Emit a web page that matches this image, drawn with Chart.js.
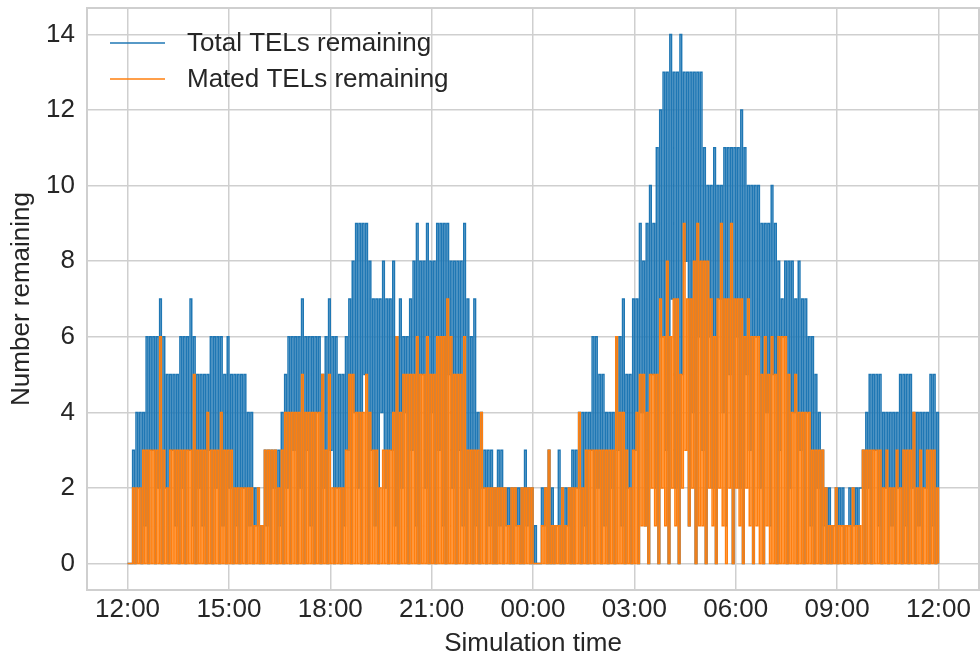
<!DOCTYPE html>
<html>
<head>
<meta charset="utf-8">
<title>TELs remaining</title>
<script src="https://cdn.jsdelivr.net/npm/chart.js@4.4.0/dist/chart.umd.min.js"></script>
<style>
  html, body { margin: 0; padding: 0; background: #fff; }
</style>
</head>
<body>
<canvas id="tel-chart" width="980" height="663"></canvas>
<script>
// one sample every 3 minutes from 12:00 to 12:00 next day, one row per hour
const stepMinutes = 3;

const totalTels = [
  0,0, 0,3, 0,4, 2,4, 0,4, 1,6, 0,6, 3,6, 0,6, 2,7,
  0,6, 2,5, 0,5, 3,5, 1,5, 0,6, 2,6, 0,6, 3,7, 1,6,
  0,5, 2,5, 1,5, 0,5, 3,6, 0,6, 2,6, 0,6, 1,5, 0,6,
  2,5, 0,5, 1,5, 0,5, 2,5, 0,4, 1,4, 0,2, 1,2, 0,1,
  0,3, 1,3, 0,3, 2,3, 0,3, 1,4, 0,5, 2,6, 0,6, 3,6,
  0,6, 2,7, 0,6, 3,6, 1,6, 0,6, 4,6, 0,5, 2,6, 0,7,
  3,6, 0,6, 2,5, 0,5, 1,6, 3,7, 0,8, 4,9, 2,9, 0,9,
  5,9, 0,8, 3,7, 1,7, 0,7, 4,8, 2,7, 0,7, 3,8, 1,6,
  0,7, 2,6, 4,6, 0,7, 3,8, 1,9, 0,8, 5,8, 2,9, 0,8,
  4,8, 0,9, 3,9, 1,9, 0,9, 5,8, 2,8, 0,8, 3,8, 1,9,
  0,7, 2,6, 0,7, 1,4, 0,4, 2,3, 0,3, 1,3, 0,2, 0,3,
  1,3, 0,2, 1,2, 0,2, 0,2, 1,2, 0,2, 0,3, 1,2, 0,2,
  0,1, 0,0, 0,2, 1,2, 0,3, 0,2, 0,1, 1,3, 0,2, 0,2,
  1,2, 0,3, 0,3, 2,4, 0,4, 1,4, 0,4, 3,6, 0,6, 2,5,
  0,5, 1,4, 0,4, 2,4, 0,6, 3,6, 1,7, 0,5, 2,5, 0,7,
  3,7, 0,9, 4,8, 1,9, 0,10, 5,9, 2,11, 0,12, 6,13, 3,13,
  0,14, 7,13, 2,13, 0,14, 5,13, 8,13, 1,13, 4,13, 0,13, 6,13,
  3,11, 0,10, 6,10, 2,11, 0,10, 7,10, 4,11, 1,11, 5,11, 0,11,
  6,11, 2,12, 0,11, 5,10, 3,10, 0,10, 6,10, 2,9, 0,9, 4,9,
  1,10, 5,9, 0,8, 3,7, 6,8, 0,8, 2,8, 4,7, 0,8, 3,7,
  0,7, 4,6, 1,6, 0,5, 2,4, 0,3, 1,2, 0,2, 0,1, 1,2,
  0,2, 1,2, 0,1, 1,2, 0,2, 1,2, 0,2, 2,3, 0,4, 2,5,
  0,5, 3,5, 1,5, 0,4, 2,4, 0,4, 1,4, 0,4, 2,5, 0,5,
  1,5, 0,5, 2,4, 0,4, 1,4, 0,4, 2,4, 0,5, 1,5, 0,4,
  0
];

const matedTels = [
  0,0, 0,2, 0,2, 0,2, 0,3, 0,3, 0,3, 0,3, 0,3, 0,6,
  0,3, 0,2, 0,3, 0,3, 0,3, 0,3, 0,3, 0,3, 0,3, 0,5,
  0,3, 0,3, 0,3, 0,4, 0,3, 0,3, 0,3, 0,4, 0,3, 0,3,
  0,3, 0,2, 0,2, 0,2, 0,2, 0,2, 0,2, 0,1, 0,2, 0,1,
  0,3, 0,3, 0,3, 0,3, 0,2, 0,3, 0,4, 0,4, 0,4, 0,4,
  0,4, 0,5, 0,4, 0,4, 0,4, 0,4, 0,4, 0,5, 0,3, 0,5,
  0,2, 0,2, 0,2, 0,2, 0,3, 0,5, 0,5, 0,4, 0,4, 0,4,
  0,5, 0,4, 0,3, 0,3, 0,2, 0,3, 0,3, 0,3, 0,4, 0,6,
  0,4, 0,5, 0,5, 0,5, 0,5, 0,6, 0,5, 0,5, 0,6, 0,5,
  0,5, 0,6, 0,6, 0,6, 0,7, 0,6, 0,5, 0,5, 0,5, 0,6,
  0,3, 0,3, 0,3, 0,3, 0,4, 0,2, 0,2, 0,2, 0,2, 0,2,
  0,2, 0,2, 0,1, 0,2, 0,2, 0,1, 0,2, 0,2, 0,2, 0,2,
  0,0, 0,0, 0,1, 0,2, 0,3, 0,1, 0,1, 0,1, 0,2, 0,1,
  0,2, 0,2, 0,2, 0,4, 0,2, 0,3, 0,3, 0,3, 0,3, 0,3,
  0,3, 0,3, 0,3, 0,3, 0,6, 0,4, 0,4, 0,3, 0,2, 0,3,
  0,4, 0,5, 1,5, 1,4, 0,5, 2,5, 1,5, 0,7, 2,6, 1,8,
  0,6, 2,7, 1,7, 0,5, 2,9, 3,7, 1,7, 2,8, 0,9, 1,8,
  1,8, 0,8, 2,7, 1,6, 0,7, 2,9, 1,7, 0,7, 2,9, 0,7,
  2,7, 1,7, 0,6, 2,7, 1,6, 0,6, 1,6, 0,5, 0,6, 1,5,
  0,6, 0,5, 0,6, 0,6, 0,6, 0,5, 0,4, 0,5, 0,4, 0,4,
  0,4, 0,4, 0,3, 0,3, 0,3, 0,3, 0,2, 0,1, 0,1, 0,2,
  0,1, 0,1, 0,1, 0,1, 0,2, 0,1, 0,1, 0,3, 0,3, 0,3,
  0,3, 0,3, 0,3, 0,2, 0,3, 0,2, 0,2, 0,3, 0,2, 0,3,
  0,3, 0,3, 0,4, 0,2, 0,3, 0,2, 0,3, 0,3, 0,3, 0,2,
  0
];

const seriesLabels = ['Total TELs remaining', 'Mated TELs remaining'];
const seriesColors = ['#1f77b4', '#ff7f0e'];

const tickLabels = ['12:00', '15:00', '18:00', '21:00', '00:00', '03:00', '06:00', '09:00', '12:00'];
const tickMinutes = [0, 180, 360, 540, 720, 900, 1080, 1260, 1440];
const yTicks = [0, 2, 4, 6, 8, 10, 12, 14];

const textColor = '#262626';
const gridColor = '#cfcfcf';
const fontFamily = '"Liberation Sans", Arial, sans-serif';

function toPoints(values) {
  return values.map((v, i) => ({ x: i * stepMinutes, y: v }));
}

// matplotlib-style legend sitting inside the plot, upper left
const insideLegend = {
  id: 'insideLegend',
  afterDraw(chart) {
    const ctx = chart.ctx;
    ctx.save();
    ctx.font = '26px ' + fontFamily;
    ctx.textBaseline = 'middle';
    chart.data.datasets.forEach((ds, i) => {
      const y = 43 + i * 36;
      ctx.strokeStyle = ds.borderColor;
      ctx.lineWidth = 1.3;
      ctx.beginPath();
      ctx.moveTo(110, y);
      ctx.lineTo(165, y);
      ctx.stroke();
      ctx.fillStyle = textColor;
      ctx.fillText(ds.label, 187, y + 1);
    });
    ctx.restore();
  }
};

// spines on all four sides
const frame = {
  id: 'frame',
  afterDatasetsDraw(chart) {
    const { ctx, chartArea: a } = chart;
    ctx.save();
    ctx.strokeStyle = gridColor;
    ctx.lineWidth = 2;
    ctx.strokeRect(a.left, a.top, a.right - a.left, a.bottom - a.top);
    ctx.restore();
  }
};

const ctx = document.getElementById('tel-chart').getContext('2d');
new Chart(ctx, {
  type: 'line',
  data: {
    datasets: [
      { label: seriesLabels[0], data: toPoints(totalTels), borderColor: seriesColors[0], order: 1 },
      { label: seriesLabels[1], data: toPoints(matedTels), borderColor: seriesColors[1], order: 0 }
    ]
  },
  options: {
    responsive: false,
    animation: false,
    layout: { padding: { top: 8, right: 1, bottom: 0, left: 0 } },
    elements: {
      point: { radius: 0 },
      line: { borderWidth: 1.5, tension: 0, stepped: true, fill: false }
    },
    plugins: {
      legend: { display: false },
      tooltip: { enabled: false }
    },
    scales: {
      x: {
        type: 'linear',
        min: -72,
        max: 1512,
        afterBuildTicks: axis => { axis.ticks = tickMinutes.map(v => ({ value: v })); },
        afterFit: axis => {
          axis.height = 73;
          axis.paddingLeft = 0;
          axis.paddingRight = 0;
        },
        ticks: {
          callback: (v, i) => tickLabels[i],
          padding: 4,
          maxRotation: 0,
          autoSkip: false,
          color: textColor,
          font: { family: fontFamily, size: 26 }
        },
        grid: { color: gridColor, lineWidth: 1.5, drawTicks: false },
        border: { display: false },
        title: {
          display: true,
          text: 'Simulation time',
          color: textColor,
          font: { family: fontFamily, size: 26 },
          padding: { top: 0, bottom: 4 }
        }
      },
      y: {
        min: -0.7,
        max: 14.7,
        afterBuildTicks: axis => { axis.ticks = yTicks.map(v => ({ value: v })); },
        afterFit: axis => {
          axis.width = 87;
          axis.paddingTop = 0;
          axis.paddingBottom = 0;
        },
        ticks: {
          callback: v => String(v),
          padding: 12,
          color: textColor,
          font: { family: fontFamily, size: 26 }
        },
        grid: { color: gridColor, lineWidth: 1.5, drawTicks: false },
        border: { display: false },
        title: {
          display: true,
          text: 'Number remaining',
          color: textColor,
          font: { family: fontFamily, size: 26 },
          padding: { top: 6, bottom: 0 }
        }
      }
    }
  },
  plugins: [frame, insideLegend]
});
</script>
</body>
</html>
